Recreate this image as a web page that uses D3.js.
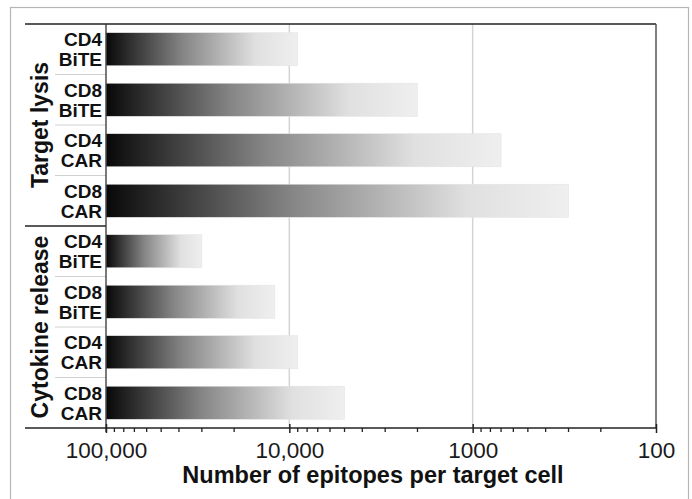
<!DOCTYPE html>
<html>
<head>
<meta charset="utf-8">
<script src="https://cdn.jsdelivr.net/npm/d3@7"></script>
<style>
  html, body { margin: 0; padding: 0; background: #fff; }
  svg { display: block; font-family: "Liberation Sans", Arial, Helvetica, sans-serif; }
</style>
</head>
<body>
<svg id="chart" width="692" height="499"></svg>
<script>
// ---- data ----
const groups = ["Target lysis", "Cytokine release"];
const groupOf = [0, 0, 0, 0, 1, 1, 1, 1];
const cells = ["CD4", "CD8", "CD4", "CD8", "CD4", "CD8", "CD4", "CD8"];
const formats = ["BiTE", "BiTE", "CAR", "CAR", "BiTE", "BiTE", "CAR", "CAR"];
const values = [9000, 2000, 700, 300, 30000, 12000, 9000, 5000];
const tickValues = [100000, 10000, 1000, 100];
const tickLabels = ["100,000", "10,000", "1000", "100"];
const axisTitle = "Number of epitopes per target cell";

(function () {
// ---- layout ----
const svg = d3.select("#chart");
const pLeft = 106, pRight = 656, pTop = 24, pBottom = 428, outerLeft = 25;

const x = d3.scaleLog().domain([100000, 100]).range([pLeft, pRight]);
const ids = d3.range(values.length);
const y = d3.scaleBand().domain(ids).range([pTop, pBottom]).paddingInner(0.345).paddingOuter(0.1725);
const step = y.step();
const gap = (step - y.bandwidth()) / 2;

// outer frame
svg.append("rect").attr("x", 10.5).attr("y", 7.5).attr("width", 678).attr("height", 520)
  .attr("fill", "none").attr("stroke", "#b5b5b5").attr("stroke-width", 1.2);

// gradient
const defs = svg.append("defs");
const grad = defs.append("linearGradient").attr("id", "barGrad")
  .attr("x1", "0%").attr("x2", "100%").attr("y1", "0%").attr("y2", "0%");
grad.append("stop").attr("offset", "0%").attr("stop-color", "#080808");
grad.append("stop").attr("offset", "40%").attr("stop-color", "#858585");
grad.append("stop").attr("offset", "78%").attr("stop-color", "#e0e0e0");
grad.append("stop").attr("offset", "100%").attr("stop-color", "#efefef");

// gridlines
svg.append("g").selectAll("line").data([10000, 1000]).join("line")
  .attr("x1", d => x(d)).attr("x2", d => x(d)).attr("y1", pTop).attr("y2", pBottom)
  .attr("stroke", "#d4d4d4").attr("stroke-width", 1.5);

// bars
svg.append("g").selectAll("rect").data(ids).join("rect")
  .attr("x", x(100000))
  .attr("y", i => y(i))
  .attr("width", i => x(values[i]) - x(100000))
  .attr("height", y.bandwidth())
  .attr("fill", "url(#barGrad)")
  .attr("stroke", "#e4e4e4").attr("stroke-width", 0.6);

// category separators (light)
svg.append("g").selectAll("line").data(ids.filter(i => i % 4 !== 0)).join("line")
  .attr("x1", 55).attr("x2", pLeft)
  .attr("y1", i => y(i) - gap)
  .attr("y2", i => y(i) - gap)
  .attr("stroke", "#d0d0d0").attr("stroke-width", 1);

// group divider
const divY = y(4) - gap;
svg.append("line").attr("x1", outerLeft).attr("x2", pLeft).attr("y1", divY).attr("y2", divY)
  .attr("stroke", "#222").attr("stroke-width", 1.5);

// top line
svg.append("line").attr("x1", outerLeft).attr("x2", pRight).attr("y1", pTop).attr("y2", pTop)
  .attr("stroke", "#222").attr("stroke-width", 1.5);
// right border
svg.append("line").attr("x1", pRight).attr("x2", pRight).attr("y1", pTop).attr("y2", pBottom)
  .attr("stroke", "#555").attr("stroke-width", 1.5);
// left axis line
svg.append("line").attr("x1", pLeft).attr("x2", pLeft).attr("y1", pTop).attr("y2", pBottom + 4)
  .attr("stroke", "#333").attr("stroke-width", 1.3);

// bottom axis
const xAxis = d3.axisBottom(x).tickValues(tickValues).tickFormat((d, i) => tickLabels[i])
  .tickSize(5).tickSizeOuter(0).tickPadding(9);
const gx = svg.append("g").attr("transform", `translate(0,${pBottom})`).call(xAxis);
gx.select(".domain").remove();
gx.selectAll(".tick line").attr("y1", -4).attr("stroke", "#222").attr("stroke-width", 1.5);
gx.selectAll(".tick text").attr("font-size", 22.5).attr("fill", "#1a1a1a")
  .attr("font-family", "'Liberation Sans', Arial, sans-serif");
svg.append("line").attr("x1", outerLeft).attr("x2", pRight).attr("y1", pBottom).attr("y2", pBottom)
  .attr("stroke", "#222").attr("stroke-width", 1.5);

// minor ticks
const minor = x.ticks().filter(d => !tickValues.includes(d));
svg.append("g").selectAll("line").data(minor).join("line")
  .attr("x1", d => x(d)).attr("x2", d => x(d)).attr("y1", pBottom).attr("y2", pBottom + 4)
  .attr("stroke", "#222").attr("stroke-width", 1.3);

// axis title
svg.append("text").attr("x", 373).attr("y", 483)
  .attr("text-anchor", "middle").attr("font-size", 23.5).attr("font-weight", "bold").attr("fill", "#111")
  .text(axisTitle);

// category labels
const lab = svg.append("g").selectAll("text").data(ids).join("text")
  .attr("text-anchor", "end").attr("font-size", 19).attr("font-weight", "bold").attr("fill", "#111");
lab.append("tspan").attr("x", 102).attr("y", i => y(i) + y.bandwidth() / 2 - 3).text(i => cells[i]);
lab.append("tspan").attr("x", 102).attr("y", i => y(i) + y.bandwidth() / 2 + 17).text(i => formats[i]);

// group labels
groups.forEach((g, gi) => {
  const members = ids.filter(i => groupOf[i] === gi);
  const y0 = y(members[0]) - gap;
  const y1 = y(members[members.length - 1]) + y.bandwidth() + gap;
  const cy = (y0 + y1) / 2;
  svg.append("text")
    .attr("transform", `translate(48,${cy}) rotate(-90)`)
    .attr("text-anchor", "middle").attr("font-size", 23).attr("font-weight", "bold").attr("fill", "#111")
    .text(g);
});
})();
</script>
</body>
</html>
